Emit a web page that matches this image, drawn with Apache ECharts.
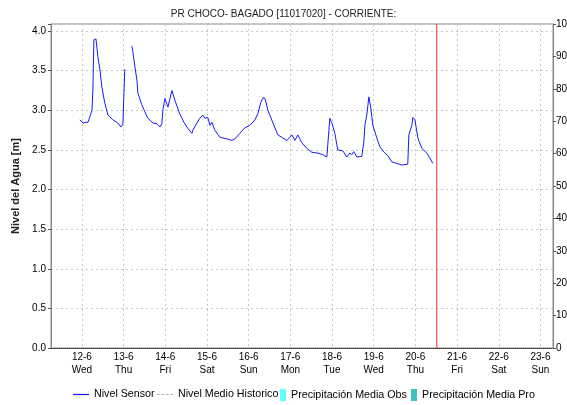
<!DOCTYPE html>
<html>
<head>
<meta charset="utf-8">
<script src="https://cdn.jsdelivr.net/npm/echarts@6/dist/echarts.min.js"></script>
<style>html,body{margin:0;padding:0;background:#fff;}#c{width:567px;height:405px;}</style>
</head>
<body>
<div id="c"></div>
<script>
var titleText = 'PR CHOCO- BAGADO [11017020] - CORRIENTE:';
var seriesNames = ['Nivel Sensor', 'Nivel Medio Historico', 'Precipitación Media Obs', 'Precipitación Media Pro'];
var weekDays = ['Sun','Mon','Tue','Wed','Thu','Fri','Sat'];
// hours after 2024-06-12 00:00
var hours = [-1.2,-0.6,0.6,2.3,3.5,4.6,5.8,6.3,6.9,8.1,8.6,9.2,10.4,11.5,13.2,15.0,17.8,20.7,22.4,23.6,24.2,24.7,26.5,
  28.8,29.3,30.5,31.7,32.2,34.5,36.3,38.0,40.9,43.2,44.9,46.0,46.6,47.8,49.5,50.6,51.8,52.4,53.5,56.4,58.7,60.4,63.3,63.9,
  66.2,67.9,69.6,70.8,71.9,72.5,73.7,74.8,76.5,79.4,83.4,86.3,88.1,90.9,93.8,96.7,99.6,101.3,103.0,104.2,105.4,107.1,110.0,
  112.8,115.7,118.0,119.7,120.9,122.6,124.3,126.6,129.5,132.4,135.8,138.7,141.0,142.2,142.7,143.9,145.6,147.3,150.2,152.5,
  154.2,155.4,156.5,158.3,159.4,161.1,162.3,162.9,164.0,165.2,166.3,167.5,169.8,171.5,174.4,176.1,178.4,181.3,184.2,187.6,
  188.2,189.9,190.5,191.7,193.4,195.7,198.6,200.3,202.0];
var levels = [2.88,2.90,2.84,2.85,2.85,2.92,3.00,3.25,3.89,3.90,3.80,3.67,3.51,3.29,3.09,2.94,2.88,2.84,2.79,2.83,3.22,3.52,null,
  3.81,3.74,3.55,3.38,3.22,3.07,2.98,2.90,2.84,2.83,2.79,2.83,3.00,3.15,3.04,3.05,3.25,3.24,3.13,2.95,2.85,2.79,2.71,2.75,
  2.84,2.90,2.94,2.90,2.88,2.91,2.81,2.85,2.75,2.66,2.64,2.62,2.64,2.71,2.78,2.81,2.88,2.96,3.10,3.16,3.15,3.00,2.84,
  2.69,2.65,2.62,2.66,2.69,2.62,2.69,2.59,2.52,2.47,2.46,2.44,2.41,2.75,2.90,2.84,2.71,2.50,2.49,2.41,
  2.46,2.44,2.48,2.41,2.40,2.42,2.60,2.81,2.94,3.17,3.03,2.81,2.65,2.54,2.46,2.43,2.35,2.33,2.31,2.32,
  2.69,2.81,2.91,2.88,2.65,2.52,2.46,2.40,2.33];
var historico = [];
var precipObs = [];
var precipPro = [];
var nowHour = 204.3;
var levelMin = 0, levelMax = 4.09;
var axisStartHour = -17.8;
var axisEndHour = 271.2;

var base = new Date(2024, 5, 12, 0, 0, 0).getTime();
var H = 3600000;
function t(h){ return base + h * H; }
var sensorData = hours.map(function(h, i){ return [t(h), levels[i]]; });
var nowData = [[t(nowHour), levelMin], [t(nowHour), levelMax]];

var colors = {sensor: '#1818ff', hist: '#b0b0b0', obs: '#66ffff', pro: '#40c0c0', now: '#ff2a2a'};
var chart = echarts.init(document.getElementById('c'), null, {renderer: 'canvas'});
var font = 'Liberation Sans, Arial, sans-serif';
var legTxt = {fontSize: 10.7, color: '#000', fontFamily: font};
chart.setOption({
  animation: false,
  textStyle: {fontFamily: font},
  title: {text: titleText, left: 'center', top: 4,
    textStyle: {fontSize: 10, fontWeight: 'normal', color: '#222', fontFamily: font}},
  grid: {left: 51, right: 14, top: 24, bottom: 57, outerBoundsMode: 'none', containLabel: false,
    show: true, borderColor: '#888', borderWidth: 1, backgroundColor: 'transparent'},
  legend: [{
    data: [{name: seriesNames[0], icon: 'rect', itemStyle: {color: colors.sensor}}],
    left: 68, top: 384, itemWidth: 16, itemHeight: 1.2, textStyle: legTxt
  }, {
    data: [{name: seriesNames[1], icon: 'path://M0,0h3v1h-3zM5,0h3v1h-3zM10,0h3v1h-3zM15,0h3v1h-3z', itemStyle: {color: colors.hist}}],
    left: 152, top: 384, itemWidth: 16, itemHeight: 10, textStyle: legTxt
  }, {
    data: [{name: seriesNames[2], icon: 'rect', itemStyle: {color: colors.obs}}],
    left: 275, top: 384, itemWidth: 6, itemHeight: 12, textStyle: legTxt
  }, {
    data: [{name: seriesNames[3], icon: 'rect', itemStyle: {color: colors.pro}}],
    left: 406, top: 384, itemWidth: 6, itemHeight: 12, textStyle: legTxt
  }],
  xAxis: {
    type: 'time',
    min: t(axisStartHour), max: t(axisEndHour),
    splitNumber: 12,
    axisLine: {show: true, lineStyle: {color: '#333', type: 'dotted', width: 1}},
    axisTick: {show: false},
    axisLabel: {fontSize: 10, color: '#000', lineHeight: 13, margin: 3, hideOverlap: false,
      formatter: function(v){ var d = new Date(v); return d.getDate() + '-' + (d.getMonth() + 1) + '\n' + weekDays[d.getDay()]; }},
    splitLine: {show: true, lineStyle: {color: '#c8c8c8', type: [2, 3]}}
  },
  yAxis: [{
    type: 'value', min: levelMin, max: levelMax, interval: 0.5,
    name: 'Nivel del Agua [m]', nameLocation: 'middle', nameGap: 23,
    nameTextStyle: {fontSize: 11, fontWeight: 'bold', color: '#222', fontFamily: font},
    axisLine: {show: true, lineStyle: {color: '#888'}},
    axisTick: {show: true, length: 3, lineStyle: {color: '#555'}},
    axisLabel: {fontSize: 10, color: '#000', margin: 5,
      formatter: function(v){ return (Math.abs(v / 0.5 - Math.round(v / 0.5)) < 1e-6) ? v.toFixed(1) : ''; }},
    splitLine: {show: true, lineStyle: {color: '#c8c8c8', type: [2, 3]}}
  }, {
    type: 'value', min: 0, max: 100, interval: 10, position: 'right',
    axisLine: {show: true, lineStyle: {color: '#888'}},
    axisTick: {show: true, length: 3, lineStyle: {color: '#555'}},
    axisLabel: {fontSize: 10, color: '#000', margin: 3},
    splitLine: {show: false}
  }],
  series: [{
    name: seriesNames[0], type: 'line', data: sensorData, symbol: 'none', showSymbol: false,
    lineStyle: {color: colors.sensor, width: 1}, itemStyle: {color: colors.sensor}
  }, {
    name: seriesNames[1], type: 'line', data: historico, symbol: 'none',
    lineStyle: {color: colors.hist, width: 1, type: 'dashed'}, itemStyle: {color: colors.hist}
  }, {
    name: seriesNames[2], type: 'line', yAxisIndex: 1, data: precipObs, symbol: 'none', itemStyle: {color: colors.obs}
  }, {
    name: seriesNames[3], type: 'line', yAxisIndex: 1, data: precipPro, symbol: 'none', itemStyle: {color: colors.pro}
  }, {
    name: 'now', type: 'line', data: nowData, symbol: 'none', silent: true,
    lineStyle: {color: colors.now, width: 1}, itemStyle: {color: colors.now}
  }]
});
</script>
</body>
</html>
